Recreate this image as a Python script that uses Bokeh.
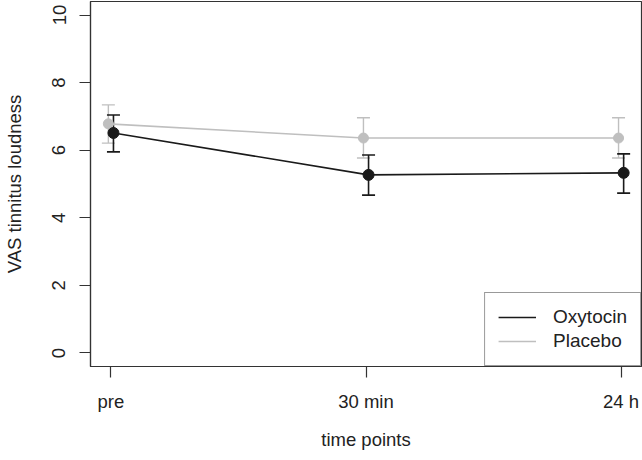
from bokeh.plotting import figure
from bokeh.models import Range1d, FixedTicker, ColumnDataSource, Whisker, TeeHead, Legend, LegendItem
from bokeh.embed import file_html
from bokeh.resources import INLINE

# ---- data ----
time_labels = ["pre", "30 min", "24 h"]
time_pos = [1, 2, 3]
oxy_mean = [6.51, 5.27, 5.33]
oxy_lower = [5.95, 4.67, 4.73]
oxy_upper = [7.04, 5.86, 5.89]
plac_mean = [6.78, 6.36, 6.36]
plac_lower = [6.21, 5.77, 5.77]
plac_upper = [7.34, 6.96, 6.96]
y_ticks = [0, 2, 4, 6, 8, 10]

OXY_COL = "#1a1a1a"
PLAC_COL = "#bfbfbf"
AX_COL = "#333333"
FONT = "Liberation Sans"
FS = "18.5px"

oxy_x = [t + 0.01 for t in time_pos]
plac_x = [t - 0.01 for t in time_pos]

p = figure(width=642, height=460, output_backend="svg", toolbar_location=None,
           x_range=Range1d(0.92, 3.08), y_range=Range1d(-0.4, 10.4),
           min_border_left=90, min_border_right=1, min_border_top=1, min_border_bottom=94)
p.background_fill_color = "white"
p.border_fill_color = "white"
p.outline_line_color = AX_COL
p.outline_line_width = 1.2
p.xgrid.visible = False
p.ygrid.visible = False

src_p = ColumnDataSource(dict(x=plac_x, y=plac_mean, lo=plac_lower, hi=plac_upper))
src_o = ColumnDataSource(dict(x=oxy_x, y=oxy_mean, lo=oxy_lower, hi=oxy_upper))

# Placebo
lp = p.line("x", "y", source=src_p, line_color=PLAC_COL, line_width=1.6)
p.add_layout(Whisker(base="x", lower="lo", upper="hi", source=src_p,
                     line_color=PLAC_COL, line_width=1.4,
                     upper_head=TeeHead(size=13, line_color=PLAC_COL, line_width=1.4),
                     lower_head=TeeHead(size=13, line_color=PLAC_COL, line_width=1.4)))
p.scatter("x", "y", source=src_p, size=10, fill_color=PLAC_COL, line_color=PLAC_COL)

# Oxytocin
lo_ = p.line("x", "y", source=src_o, line_color=OXY_COL, line_width=1.6)
p.add_layout(Whisker(base="x", lower="lo", upper="hi", source=src_o,
                     line_color=OXY_COL, line_width=1.6,
                     upper_head=TeeHead(size=13, line_color=OXY_COL, line_width=1.6),
                     lower_head=TeeHead(size=13, line_color=OXY_COL, line_width=1.6)))
p.scatter("x", "y", source=src_o, size=11, fill_color=OXY_COL, line_color=OXY_COL)

# Axes
p.xaxis.ticker = FixedTicker(ticks=time_pos)
p.xaxis.major_label_overrides = {t: l for t, l in zip(time_pos, time_labels)}
p.yaxis.ticker = FixedTicker(ticks=y_ticks)
p.yaxis.major_label_orientation = "vertical"
for ax in (p.xaxis[0], p.yaxis[0]):
    ax.axis_line_color = AX_COL
    ax.axis_line_width = 1.2
    ax.major_tick_line_color = AX_COL
    ax.major_tick_line_width = 1.2
    ax.major_tick_out = 11
    ax.major_tick_in = 0
    ax.minor_tick_line_color = None
    ax.major_label_text_font = FONT
    ax.major_label_text_font_size = FS
    ax.major_label_text_color = "#222222"
    ax.axis_label_text_font = FONT
    ax.axis_label_text_font_size = FS
    ax.axis_label_text_font_style = "normal"
    ax.axis_label_text_color = "#222222"
p.xaxis.axis_label = "time points"
p.yaxis.axis_label = "VAS tinnitus loudness"
p.xaxis.major_label_standoff = 13
p.xaxis.axis_label_standoff = 14
p.yaxis.major_label_standoff = 14
p.yaxis.axis_label_standoff = 25

legend = Legend(items=[LegendItem(label="Oxytocin", renderers=[lo_]),
                       LegendItem(label="Placebo", renderers=[lp])],
                location="bottom_right", margin=0, padding=13, spacing=2,
                glyph_width=38, glyph_height=20, label_standoff=17,
                label_text_font=FONT, label_text_font_size="19px", label_text_color="#222222",
                border_line_color=AX_COL, border_line_width=1.2,
                background_fill_color="white", background_fill_alpha=1.0)
p.add_layout(legend)

open("out.html", "w").write(file_html(p, INLINE))
